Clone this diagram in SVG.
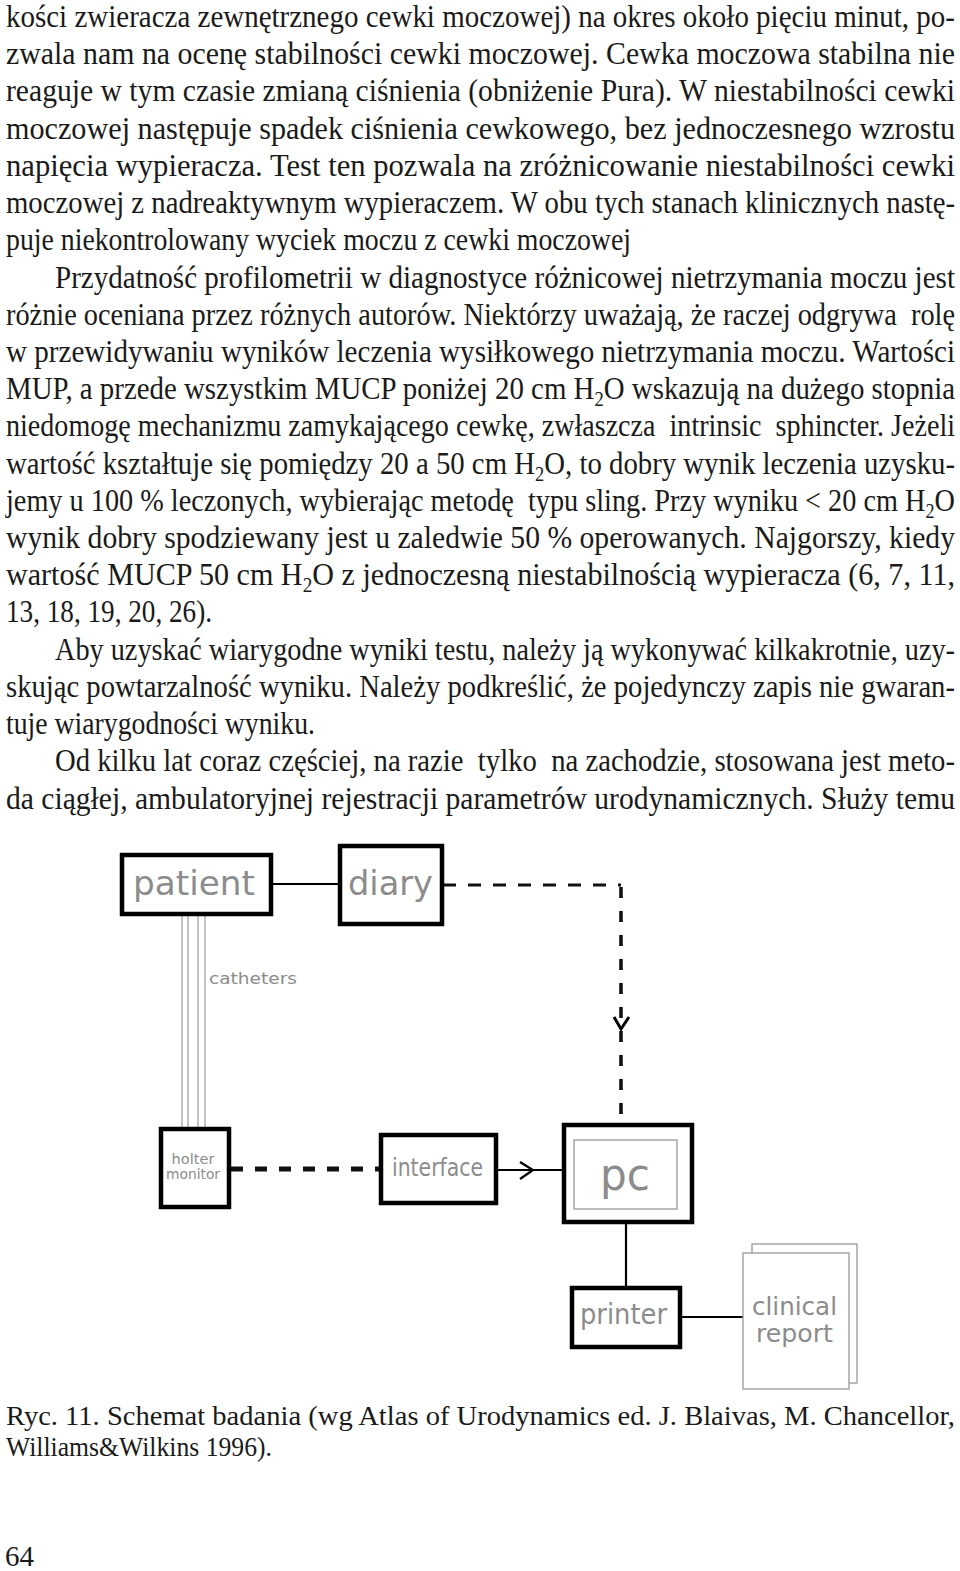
<svg xmlns="http://www.w3.org/2000/svg" width="960" height="1571" viewBox="0 0 960 1571">
<style>
.body{font-family:"Liberation Serif","Times New Roman",serif;font-size:28px;fill:#1a1a1a}
.cap{font-family:"Liberation Serif","Times New Roman",serif;font-size:24px;fill:#1a1a1a}
.pre{white-space:pre}
.box{fill:#fff;stroke:#000;stroke-width:4.5}
.lbl{font-family:"DejaVu Sans","Liberation Sans",sans-serif;fill:#8c8c8c}
.thin{fill:#fff;stroke:#999;stroke-width:1.3}
.solid{stroke:#000;stroke-width:2.2;fill:none}
.dash{stroke:#111;stroke-width:3;fill:none;stroke-dasharray:13 12}
.vdash{stroke:#111;stroke-width:3.6;fill:none;stroke-dasharray:11 13}
.hdash{stroke:#111;stroke-width:5;fill:none;stroke-dasharray:12 12}
.cath{stroke:#999;stroke-width:1.2;fill:none}
</style>

<g id="body-text" transform="scale(1,1.16)">
<text class="body" x="6" y="23.28" textLength="949" lengthAdjust="spacingAndGlyphs">kości zwieracza zewnętrznego cewki moczowej) na okres około pięciu minut, po-</text>
<text class="body" x="6" y="55.17" textLength="949" lengthAdjust="spacingAndGlyphs">zwala nam na ocenę stabilności cewki moczowej. Cewka moczowa stabilna nie</text>
<text class="body" x="6" y="87.07" textLength="949" lengthAdjust="spacingAndGlyphs">reaguje w tym czasie zmianą ciśnienia (obniżenie Pura). W niestabilności cewki</text>
<text class="body" x="6" y="119.83" textLength="949" lengthAdjust="spacingAndGlyphs">moczowej następuje spadek ciśnienia cewkowego, bez jednoczesnego wzrostu</text>
<text class="body" x="6" y="151.72" textLength="949" lengthAdjust="spacingAndGlyphs">napięcia wypieracza. Test ten pozwala na zróżnicowanie niestabilności cewki</text>
<text class="body" x="6" y="183.62" textLength="949" lengthAdjust="spacingAndGlyphs">moczowej z nadreaktywnym wypieraczem. W obu tych stanach klinicznych nastę-</text>
<text class="body" x="6" y="215.52" textLength="625" lengthAdjust="spacingAndGlyphs">puje niekontrolowany wyciek moczu z cewki moczowej</text>
<text class="body" x="55" y="248.28" textLength="900" lengthAdjust="spacingAndGlyphs">Przydatność profilometrii w diagnostyce różnicowej nietrzymania moczu jest</text>
<text class="body pre" x="6" y="280.17" textLength="949" lengthAdjust="spacingAndGlyphs">różnie oceniana przez różnych autorów. Niektórzy uważają, że raczej odgrywa  rolę</text>
<text class="body" x="6" y="312.07" textLength="949" lengthAdjust="spacingAndGlyphs">w przewidywaniu wyników leczenia wysiłkowego nietrzymania moczu. Wartości</text>
<text class="body" x="6" y="343.97" textLength="949" lengthAdjust="spacingAndGlyphs">MUP, a przede wszystkim MUCP poniżej 20 cm H<tspan font-size="18" dy="6">2</tspan><tspan dy="-6">O wskazują na dużego stopnia</tspan></text>
<text class="body pre" x="6" y="375.86" textLength="949" lengthAdjust="spacingAndGlyphs">niedomogę mechanizmu zamykającego cewkę, zwłaszcza  intrinsic  sphincter. Jeżeli</text>
<text class="body" x="6" y="408.62" textLength="949" lengthAdjust="spacingAndGlyphs">wartość kształtuje się pomiędzy 20 a 50 cm H<tspan font-size="18" dy="6">2</tspan><tspan dy="-6">O, to dobry wynik leczenia uzysku-</tspan></text>
<text class="body pre" x="6" y="440.52" textLength="949" lengthAdjust="spacingAndGlyphs">jemy u 100 % leczonych, wybierając metodę  typu sling. Przy wyniku &lt; 20 cm H<tspan font-size="18" dy="6">2</tspan><tspan dy="-6">O</tspan></text>
<text class="body" x="6" y="472.41" textLength="949" lengthAdjust="spacingAndGlyphs">wynik dobry spodziewany jest u zaledwie 50 % operowanych. Najgorszy, kiedy</text>
<text class="body" x="6" y="504.31" textLength="949" lengthAdjust="spacingAndGlyphs">wartość MUCP 50 cm H<tspan font-size="18" dy="6">2</tspan><tspan dy="-6">O z jednoczesną niestabilnością wypieracza (6, 7, 11,</tspan></text>
<text class="body" x="6" y="536.21" textLength="206" lengthAdjust="spacingAndGlyphs">13, 18, 19, 20, 26).</text>
<text class="body" x="55" y="568.97" textLength="900" lengthAdjust="spacingAndGlyphs">Aby uzyskać wiarygodne wyniki testu, należy ją wykonywać kilkakrotnie, uzy-</text>
<text class="body" x="6" y="600.86" textLength="949" lengthAdjust="spacingAndGlyphs">skując powtarzalność wyniku. Należy podkreślić, że pojedynczy zapis nie gwaran-</text>
<text class="body" x="6" y="632.76" textLength="309" lengthAdjust="spacingAndGlyphs">tuje wiarygodności wyniku.</text>
<text class="body pre" x="55" y="664.66" textLength="900" lengthAdjust="spacingAndGlyphs">Od kilku lat coraz częściej, na razie  tylko  na zachodzie, stosowana jest meto-</text>
<text class="body" x="6" y="697.41" textLength="949" lengthAdjust="spacingAndGlyphs">da ciągłej, ambulatoryjnej rejestracji parametrów urodynamicznych. Służy temu</text>
</g>

<g id="connectors">
<line class="solid" x1="272" y1="884" x2="339" y2="884"/>
<path class="dash" d="M443 885 H621"/>
<path class="vdash" d="M621 887 V1120"/>
<polyline class="solid" points="614,1017 621,1029 629,1017" style="stroke-width:3"/>
<line class="cath" x1="182" y1="916" x2="182" y2="1127"/>
<line class="cath" x1="188" y1="916" x2="188" y2="1127"/>
<line class="cath" x1="198" y1="916" x2="198" y2="1127"/>
<line class="cath" x1="205" y1="916" x2="205" y2="1127"/>
<path class="hdash" d="M231 1169 H380"/>
<line class="solid" x1="497" y1="1170" x2="562" y2="1170"/>
<polyline class="solid" points="520,1162 533,1170 520,1179"/>
<line class="solid" x1="626" y1="1223" x2="626" y2="1287"/>
<line class="solid" x1="681" y1="1317" x2="743" y2="1317"/>
</g>

<g id="patient">
<rect class="box" x="122" y="855" width="149" height="59"/>
<text class="lbl" x="133" y="895" font-size="34" textLength="122" lengthAdjust="spacingAndGlyphs">patient</text>
</g>
<g id="diary">
<rect class="box" x="340" y="846" width="102" height="78"/>
<text class="lbl" x="348" y="895" font-size="34" textLength="85" lengthAdjust="spacingAndGlyphs">diary</text>
</g>
<text id="catheters" class="lbl" x="209" y="984" font-size="16" textLength="88" lengthAdjust="spacingAndGlyphs">catheters</text>
<g id="holter">
<rect class="box" x="161" y="1129" width="68" height="78"/>
<text class="lbl" x="193" y="1164" font-size="14" text-anchor="middle" textLength="43" lengthAdjust="spacingAndGlyphs">holter</text>
<text class="lbl" x="193" y="1179" font-size="14" text-anchor="middle" textLength="54" lengthAdjust="spacingAndGlyphs">monitor</text>
</g>
<g id="interface">
<rect class="box" x="381" y="1135" width="115" height="68"/>
<text class="lbl" x="392" y="1176" font-size="24" textLength="91" lengthAdjust="spacingAndGlyphs">interface</text>
</g>
<g id="pc">
<rect class="box" x="564" y="1125" width="128" height="97"/>
<rect class="thin" x="574" y="1140" width="103" height="69"/>
<text class="lbl" x="600" y="1190" font-size="44" textLength="50" lengthAdjust="spacingAndGlyphs">pc</text>
</g>
<g id="printer">
<rect class="box" x="572" y="1288" width="108" height="59"/>
<text class="lbl" x="580" y="1324" font-size="28" textLength="87" lengthAdjust="spacingAndGlyphs">printer</text>
</g>
<g id="report">
<rect class="thin" x="752" y="1244" width="105" height="139"/>
<rect class="thin" x="743" y="1253" width="106" height="136"/>
<text class="lbl" x="752" y="1315" font-size="25" textLength="85" lengthAdjust="spacingAndGlyphs">clinical</text>
<text class="lbl" x="756" y="1342" font-size="25" textLength="77" lengthAdjust="spacingAndGlyphs">report</text>
</g>

<g id="caption" transform="scale(1,1.1)">
<text class="cap" x="6" y="1295.45" textLength="949" lengthAdjust="spacingAndGlyphs">Ryc. 11. Schemat badania (wg Atlas of Urodynamics ed. J. Blaivas, M. Chancellor,</text>
<text class="cap" x="6" y="1323.64" textLength="266" lengthAdjust="spacingAndGlyphs">Williams&amp;Wilkins 1996).</text>
</g>
<text id="page-number" x="5" y="1566" font-family="'Liberation Serif','Times New Roman',serif" font-size="30" fill="#1a1a1a" textLength="29" lengthAdjust="spacingAndGlyphs">64</text>
</svg>
